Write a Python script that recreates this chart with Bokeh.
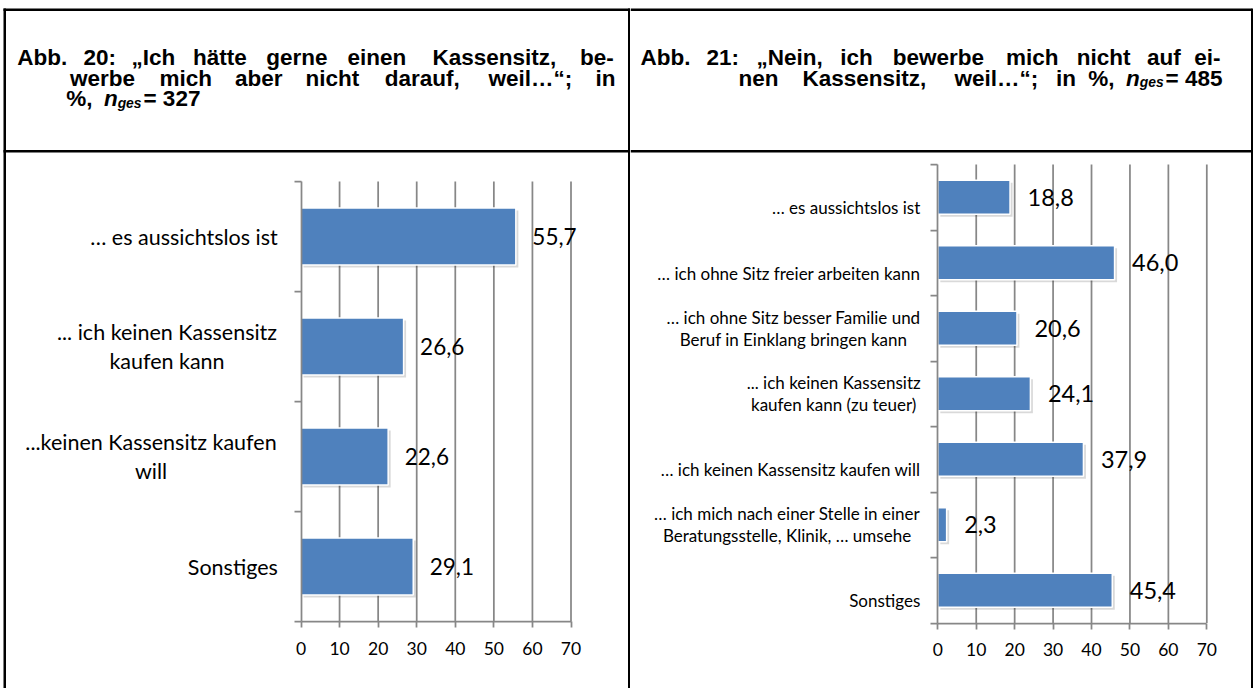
import numpy as np
from bokeh.plotting import figure
from bokeh.models import Range1d, FixedTicker, LinearAxis, ColumnDataSource
from bokeh.layouts import row
from bokeh.embed import file_html
from bokeh.resources import INLINE
from bokeh.core.properties import value

# ---------------- data ----------------
cats_left = ["… es aussichtslos ist",
             "... ich keinen Kassensitz\nkaufen kann",
             "...keinen Kassensitz kaufen\nwill",
             "Sonstiges"]
vals_left = [55.7, 26.6, 22.6, 29.1]

cats_right = ["… es aussichtslos ist",
              "… ich ohne Sitz freier arbeiten kann",
              "… ich ohne Sitz besser Familie und\nBeruf in Einklang bringen kann",
              "... ich keinen Kassensitz\nkaufen kann (zu teuer)",
              "… ich keinen Kassensitz kaufen will",
              "… ich mich nach einer Stelle in einer\nBeratungsstelle, Klinik, … umsehe",
              "Sonstiges"]
vals_right = [18.8, 46.0, 20.6, 24.1, 37.9, 2.3, 45.4]

x_ticks = [0, 10, 20, 30, 40, 50, 60, 70]

title_left_1 = "Abb. 20: „Ich hätte gerne einen Kassensitz, be-"
title_left_2 = "werbe mich aber nicht darauf, weil…“; in"
title_left_n = "327"
title_right_1 = "Abb. 21: „Nein, ich bewerbe mich nicht auf ei-"
title_right_2 = "nen Kassensitz, weil…“; in"
title_right_n = "485"

# ---------------- styling / layout ----------------
H = 688
BAR = "#4F81BD"
GRID = "#878787"
CAT_FONT = "Lato"
HEAD_FONT = "Liberation Sans"
HEAD_SIZE = 22.5
SUB = 0.62
BASE1, BASE2, BASE3 = 57.0, 77.7, 98.4

# Arial-Bold advance widths (per 1000 em) used to lay out the header words
AB = {' ': 278, 'A': 722, 'I': 278, 'K': 722, 'N': 722, 'a': 556, 'b': 611, 'c': 556,
      'd': 611, 'e': 556, 'f': 333, 'g': 611, 'h': 611, 'i': 278, 'l': 278, 'm': 889,
      'n': 611, 'o': 611, 'r': 389, 's': 556, 't': 333, 'u': 611, 'w': 778, 'z': 500,
      'ä': 556, '.': 278, ',': 278, ':': 333, ';': 333, '-': 333, '%': 889, '=': 584,
      '„': 500, '“': 500, '…': 1000}


def tw(s, size):
    return sum(AB.get(c, 556) for c in s) * size / 1000.0


def fmt(v):
    return f"{v:.1f}".replace(".", ",")


def px_quad(p, l, r, t, b):
    p.quad(left=[l], right=[r], top=[t], bottom=[b], x_range_name="px", y_range_name="px",
           fill_color="black", line_color=None)


def header_line(p, tokens, baseline, x0=None, x1=None, mode="left", sp=27.0):
    """tokens: (text, style, sep); style b/bi/sub; sep sp/none/thin"""
    fac = lambda st: SUB if st == "sub" else 1.0
    widths = [tw(t, sp * fac(st)) for t, st, _ in tokens]
    seps = [{"sp": tw(" ", sp), "none": 0.0, "thin": 0.12 * sp}[s] for _, _, s in tokens]
    total = sum(widths) + sum(seps[:-1])
    extra = 0.0
    if mode == "justify":
        n_sp = sum(1 for _, _, s in tokens[:-1] if s == "sp")
        extra = (x1 - x0 - total) / max(n_sp, 1)
    elif mode == "right":
        x0 = x1 - total
    x = x0
    prev_sep = "sp"
    rend = x0
    placed = []
    for (t, st, s), w, g in zip(tokens, widths, seps):
        size = HEAD_SIZE * fac(st)
        shift = 4.0 if st == "sub" else 0.0
        rw = tw(t, size)
        if prev_sep == "sp":
            left = x + w / 2 - rw / 2
        else:
            left = rend + (0.08 * HEAD_SIZE if prev_sep == "thin" else 0.0)
        placed.append((left, t, st, size, shift))
        rend = left + rw
        x += w + g + (extra if s == "sp" else 0.0)
        prev_sep = s
    delta = (x1 - rend) if mode == "right" else 0.0
    for left, t, st, size, shift in placed:
        p.text(x=[left + delta], y=[baseline + shift], text=[t],
               x_range_name="px", y_range_name="px",
               text_align=value("left"), text_baseline=value("alphabetic"),
               text_font=value(HEAD_FONT),
               text_font_style=value("bold" if st == "b" else "bold italic"),
               text_font_size=value(f"{size:.1f}px"), text_color="black")


def words(s):
    return [(w, "b", "sp") for w in s.split(" ")]


def chart_column(W, cats, vals, g, cat_size, val_size, tick_size, line_gap,
                 single_shift, right_edge, centers, val_off):
    n = len(cats)
    ppu = (g["x70"] - g["x0"]) / 70.0          # px per percent
    ppd = (g["ybot"] - g["ytop"]) / n          # px per category band
    xr = Range1d(-g["x0"] / ppu, (W - g["x0"]) / ppu)
    yr = Range1d((H - g["ytop"]) / ppd, -g["ytop"] / ppd)
    p = figure(width=W, height=H, x_range=xr, y_range=yr, min_border=0,
               x_axis_location=None, y_axis_location=None, title=None,
               output_backend="svg", toolbar_location=None)
    p.extra_x_ranges = {"px": Range1d(0, W)}
    p.extra_y_ranges = {"px": Range1d(H, 0)}
    p.outline_line_color = None
    p.grid.visible = False
    p.background_fill_color = "white"
    p.border_fill_color = "white"

    ys = np.arange(n) + 0.5
    dx = 2.5 / ppu
    dy = 2.5 / ppd
    src = ColumnDataSource(dict(y=ys, v=vals, txt=[fmt(v) for v in vals],
                                ys=ys + dy, vs=np.array(vals) + dx, ls=np.full(n, dx)))

    # vertical grid lines
    p.segment(x0=x_ticks[1:], x1=x_ticks[1:], y0=0, y1=n, line_color=GRID, line_width=1.75)

    # bars with soft shadow
    p.hbar(y="ys", left="ls", right="vs", height=0.52, source=src,
           fill_color="black", fill_alpha=0.15, line_color=None)
    p.hbar(y="y", left=0, right="v", height=0.52, source=src,
           fill_color=BAR, line_color="white", line_width=1.5)

    # value labels
    p.text(x="v", y="y", text="txt", source=src, x_offset=val_off,
           text_baseline=value("middle"), text_align=value("left"),
           text_font=value(CAT_FONT), text_font_size=value(f"{val_size}px"),
           text_color="black")

    # axes drawn at fixed data locations
    xa = LinearAxis(fixed_location=n, bounds=(0, 70), ticker=FixedTicker(ticks=x_ticks))
    xa.axis_line_color = GRID
    xa.axis_line_width = 1.75
    xa.major_tick_line_color = GRID
    xa.major_tick_line_width = 1.75
    xa.major_tick_in = 0
    xa.major_tick_out = 6
    xa.minor_tick_line_color = None
    xa.major_label_standoff = 14
    xa.major_label_text_font = CAT_FONT
    xa.major_label_text_font_size = f"{tick_size}px"
    xa.major_label_text_color = "black"
    p.add_layout(xa, "below")

    ya = LinearAxis(fixed_location=0, bounds=(0, n), ticker=FixedTicker(ticks=list(range(n + 1))))
    ya.major_label_overrides = {i: "" for i in range(n + 1)}
    ya.axis_line_color = GRID
    ya.axis_line_width = 1.75
    ya.major_tick_line_color = GRID
    ya.major_tick_line_width = 1.75
    ya.major_tick_in = 0
    ya.major_tick_out = 7
    ya.minor_tick_line_color = None
    p.add_layout(ya, "left")

    # category labels
    for i, c in enumerate(cats):
        lines = c.split("\n")
        m = len(lines)
        if m == 1:
            p.text(x=[right_edge], y=[ys[i] + single_shift / ppd], text=[c],
                   x_range_name="px", text_align=value("right"),
                   text_baseline=value("middle"), text_font=value(CAT_FONT),
                   text_font_size=value(f"{cat_size}px"), text_color="black")
        else:
            for j, ln in enumerate(lines):
                off = -(m - 1) / 2.0 * line_gap + j * line_gap
                p.text(x=[centers[i]], y=[ys[i] + off / ppd], text=[ln],
                       x_range_name="px", text_align=value("center"),
                       text_baseline=value("middle"), text_font=value(CAT_FONT),
                       text_font_size=value(f"{cat_size}px"), text_color="black")
    return p


# ---------------- left column ----------------
W1 = 630
p1 = chart_column(W1, cats_left, vals_left,
                  dict(x0=300.5, x70=570.5, ytop=181, ybot=621),
                  cat_size=21.5, val_size=22.5, tick_size=17.5, line_gap=28.4,
                  single_shift=0, right_edge=277.3,
                  centers={1: 166.5, 2: 150.5}, val_off=16.5)
px_quad(p1, 3, 5.5, 8, H)            # left border
px_quad(p1, 3, W1, 8, 10.5)          # top border
px_quad(p1, 3, W1, 149.5, 152)       # header separator
px_quad(p1, W1 - 2.5, W1, 8, H)      # middle divider

header_line(p1, words(title_left_1), BASE1, x0=11.7, x1=616.7, mode="justify")
header_line(p1, words(title_left_2), BASE2, x0=63, x1=617, mode="justify")
header_line(p1, [("%,", "b", "sp"), ("n", "bi", "none"), ("ges", "sub", "thin"),
                 ("= " + title_left_n, "b", "none")], BASE3, x0=63, mode="left")

# ---------------- right column ----------------
W2 = 623
p2 = chart_column(W2, cats_right, vals_right,
                  dict(x0=307.3, x70=576.3, ytop=164, ybot=622.5),
                  cat_size=17, val_size=23.5, tick_size=17.5, line_gap=21.9,
                  single_shift=10.5, right_edge=289.8,
                  centers={2: 163.0, 3: 203.2, 5: 156.5}, val_off=17.5)
px_quad(p2, 0, W2 - 2, 8, 10.5)        # top border
px_quad(p2, 0, W2 - 2, 149.5, 152)     # header separator
px_quad(p2, W2 - 2.5, W2 - 0.5, 8, H)  # right border

header_line(p2, words(title_right_1), BASE1, x0=5, x1=592.7, mode="justify")
header_line(p2, words(title_right_2) + [("%,", "b", "sp"), ("n", "bi", "none"),
                                        ("ges", "sub", "thin"),
                                        ("= " + title_right_n, "b", "none")],
            BASE2, x1=592, mode="right")

layout = row(p1, p2)
open("out.html", "w").write(file_html(layout, INLINE))
